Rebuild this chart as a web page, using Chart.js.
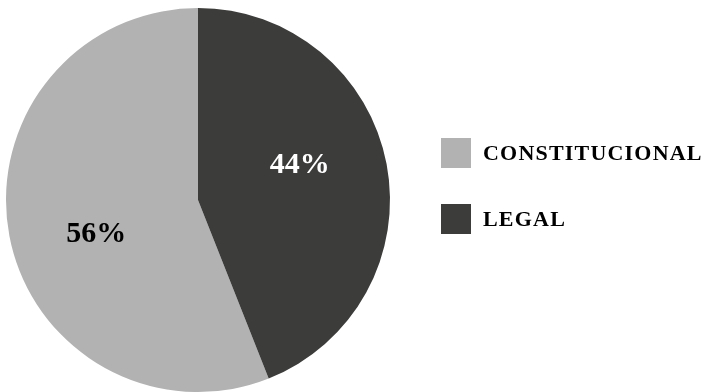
<!DOCTYPE html>
<html>
<head>
<meta charset="utf-8">
<script src="https://cdn.jsdelivr.net/npm/chart.js@4"></script>
<style>
  html, body { margin: 0; padding: 0; background: #fff; }
  #wrap { width: 710px; height: 392px; }
</style>
</head>
<body>
<div id="wrap"><canvas id="pieChart" width="710" height="392"></canvas></div>
<script>
const labels = ["CONSTITUCIONAL", "LEGAL"];
const values = [56, 44];
const colors = ["#b2b2b2", "#3c3c3b"];
const labelColors = ["#000000", "#ffffff"];

const SERIF = "'Liberation Serif', 'DejaVu Serif', serif";
const total = values.reduce((a, b) => a + b, 0);

// etiquetas de porcentaje dentro de cada sector
const pctLabels = {
  id: "pctLabels",
  afterDatasetsDraw(chart) {
    const ctx = chart.ctx;
    const meta = chart.getDatasetMeta(0);
    ctx.save();
    ctx.font = "bold 30px " + SERIF;
    ctx.textAlign = "center";
    ctx.textBaseline = "middle";
    meta.data.forEach((arc, i) => {
      const p = arc.getProps(["x", "y", "startAngle", "endAngle", "outerRadius"], true);
      const mid = (p.startAngle + p.endAngle) / 2 - 8 * Math.PI / 180;
      const r = p.outerRadius * 0.56;
      ctx.fillStyle = labelColors[i];
      ctx.fillText(Math.round(values[i] / total * 100) + "%", p.x + r * Math.cos(mid), p.y + r * Math.sin(mid));
    });
    ctx.restore();
  }
};

// leyenda a la derecha
const sideLegend = {
  id: "sideLegend",
  afterDraw(chart) {
    const ctx = chart.ctx;
    const ds = chart.data.datasets[0];
    ctx.save();
    ctx.font = "bold 22px " + SERIF;
    ctx.letterSpacing = "1.2px";
    ctx.textBaseline = "middle";
    chart.data.labels.forEach((lab, i) => {
      const y = 138 + i * 66;
      ctx.fillStyle = ds.backgroundColor[i];
      ctx.fillRect(441, y, 30, 30);
      ctx.fillStyle = "#000";
      ctx.fillText(lab, 483, y + 16);
    });
    ctx.restore();
  }
};

new Chart(document.getElementById("pieChart").getContext("2d"), {
  type: "pie",
  data: {
    labels: labels,
    datasets: [{
      data: values,
      backgroundColor: colors,
      borderWidth: 0
    }]
  },
  options: {
    responsive: false,
    devicePixelRatio: 1,
    animation: false,
    rotation: values[1] / total * 360,
    layout: { padding: { left: 6, right: 320, top: 8, bottom: 0 } },
    plugins: {
      legend: { display: false },
      tooltip: { enabled: false }
    }
  },
  plugins: [pctLabels, sideLegend]
});
</script>
</body>
</html>
